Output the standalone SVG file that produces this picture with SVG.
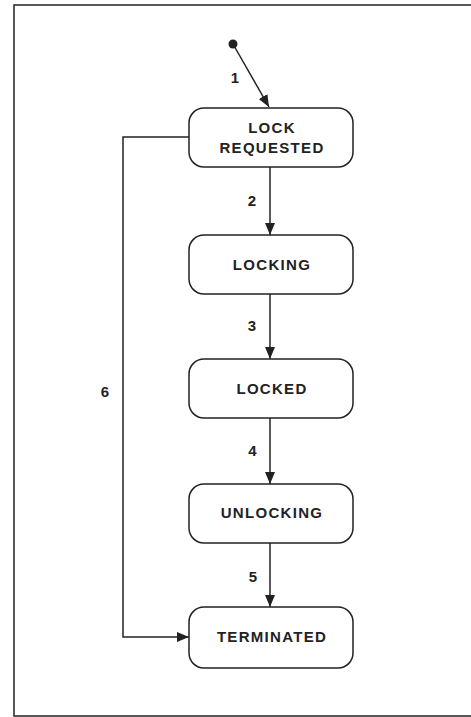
<svg xmlns="http://www.w3.org/2000/svg" width="471" height="717" viewBox="0 0 471 717">
<defs>
<style>
.frame{fill:none;stroke:#222;stroke-width:1.5}
.box rect{fill:#fff;stroke:#222;stroke-width:1.5}
.box text{font-family:"Liberation Sans",Arial,sans-serif;font-weight:bold;font-size:15px;letter-spacing:1.3px;fill:#222;text-anchor:middle}
.conn{fill:none;stroke:#222;stroke-width:1.5}
.lbl{font-family:"Liberation Sans",Arial,sans-serif;font-weight:bold;font-size:15px;fill:#222;text-anchor:middle}
</style>
<marker id="ah" viewBox="0 0 12 10" refX="12" refY="5" markerWidth="12" markerHeight="10" markerUnits="userSpaceOnUse" orient="auto">
<path d="M0,0 L12,5 L0,10 Z" fill="#222"/>
</marker>
</defs>
<rect width="471" height="717" fill="#fff"/>
<path class="frame" d="M472,5 H14 V716 H472"/>
<g id="connectors">
<circle cx="233" cy="44" r="4.5" fill="#222"/>
<path class="conn" d="M233,44 L269,107" marker-end="url(#ah)"/>
<path class="conn" d="M270,167 V235" marker-end="url(#ah)"/>
<path class="conn" d="M270,294 V359" marker-end="url(#ah)"/>
<path class="conn" d="M270,418 V484" marker-end="url(#ah)"/>
<path class="conn" d="M270,543 V607" marker-end="url(#ah)"/>
<path class="conn" d="M189,137 H123 V637 H189" marker-end="url(#ah)"/>
<text class="lbl" x="235" y="83">1</text>
<text class="lbl" x="252" y="206">2</text>
<text class="lbl" x="252" y="331">3</text>
<text class="lbl" x="252.5" y="456">4</text>
<text class="lbl" x="253" y="582">5</text>
<text class="lbl" x="105" y="397">6</text>
</g>
<g id="lock-requested" class="box">
<rect x="189" y="108" width="164" height="59" rx="15"/>
<text x="272" y="133">LOCK</text>
<text x="272" y="153">REQUESTED</text>
</g>
<g id="locking" class="box">
<rect x="189" y="235" width="164" height="59" rx="15"/>
<text x="272" y="270">LOCKING</text>
</g>
<g id="locked" class="box">
<rect x="189" y="359" width="164" height="59" rx="15"/>
<text x="272" y="394">LOCKED</text>
</g>
<g id="unlocking" class="box">
<rect x="189" y="484" width="164" height="59" rx="15"/>
<text x="272" y="518">UNLOCKING</text>
</g>
<g id="terminated" class="box">
<rect x="189" y="607" width="164" height="61" rx="15"/>
<text x="272" y="642">TERMINATED</text>
</g>
</svg>
